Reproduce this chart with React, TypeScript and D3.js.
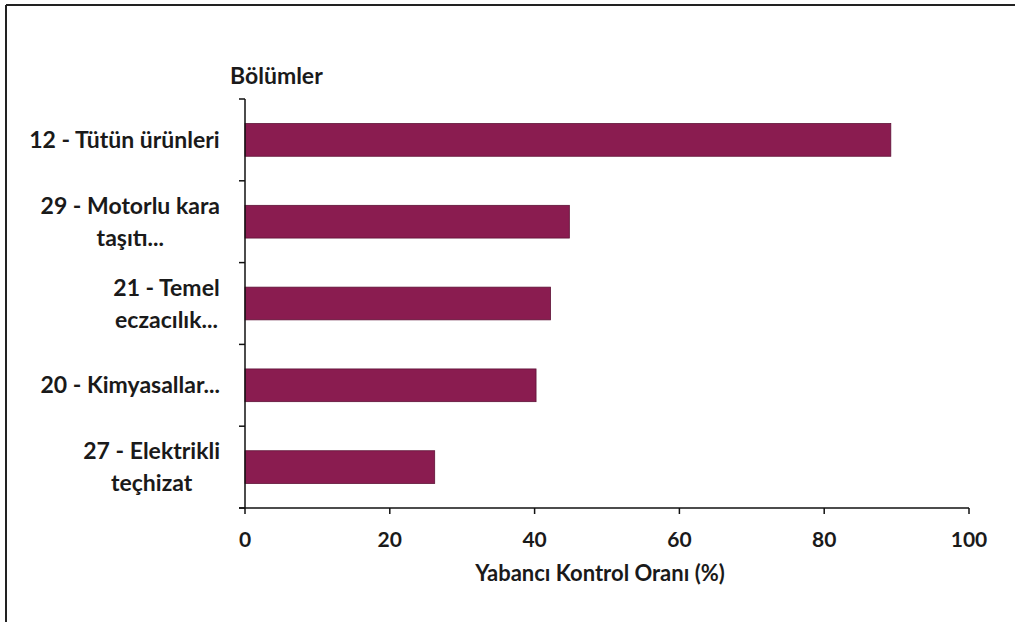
import React from "react";
import * as d3 from "d3";

const categories: string[][] = [
  ["12 - Tütün ürünleri"],
  ["29 - Motorlu kara", "taşıtı..."],
  ["21 - Temel", "eczacılık..."],
  ["20 - Kimyasallar..."],
  ["27 - Elektrikli", "teçhizat"],
];
const values: number[] = [89.2, 44.8, 42.2, 40.2, 26.2];
const xTicks: number[] = [0, 20, 40, 60, 80, 100];
const yTitle = "Bölümler";
const xTitle = "Yabancı Kontrol Oranı (%)";

const W = 1015;
const H = 622;
const left = 245;
const right = 969;
const top = 99;
const bottom = 508;
const FONT = "Lato, 'DejaVu Sans', sans-serif";
const BAR = "#8a1c50";
const TXT = "#1a1a1a";
const LABEL_SIZE = 23;
const LABEL_RIGHT = 220;

let ctx: CanvasRenderingContext2D | null = null;
function measure(s: string): number {
  if (!ctx) {
    const c = document.createElement("canvas");
    ctx = c.getContext("2d");
  }
  if (!ctx) return s.length * LABEL_SIZE * 0.5;
  ctx.font = `700 ${LABEL_SIZE}px Lato, 'DejaVu Sans', sans-serif`;
  return ctx.measureText(s).width;
}

export default function App() {
  const x = d3.scaleLinear().domain([0, 100]).range([left, right]);
  const idx = categories.map((_, i) => String(i));
  const y = d3.scaleBand<string>().domain(idx).range([top, bottom]).paddingInner(0.6).paddingOuter(0.3);
  const yb = d3.scaleBand<string>().domain(idx).range([top, bottom]);
  const bounds = idx.map((k) => yb(k)!).concat([bottom]);
  return (
    <svg width={W} height={H} style={{ position: "absolute", left: 0, top: 0, background: "#fff" }}>
      <line x1={6} y1={5} x2={W} y2={5} stroke="#222" strokeWidth={2} />
      <line x1={6} y1={5} x2={6} y2={H} stroke="#222" strokeWidth={2} />
      {values.map((v, i) => (
        <rect key={i} x={x(0)} y={y(String(i))} width={x(v) - x(0)} height={y.bandwidth()} fill={BAR} stroke="#5e1236" strokeWidth={0.8} />
      ))}
      <line x1={left} y1={top} x2={left} y2={bottom} stroke="#111" strokeWidth={1.5} />
      {bounds.map((b, i) => (
        <line key={i} x1={left - 6} x2={left} y1={b} y2={b} stroke="#111" strokeWidth={1.5} />
      ))}
      <line x1={left - 6} x2={right} y1={bottom} y2={bottom} stroke="#111" strokeWidth={1.5} />
      {xTicks.map((t) => (
        <g key={t}>
          <line x1={x(t)} x2={x(t)} y1={bottom} y2={bottom + 6} stroke="#111" strokeWidth={1.5} />
          <text x={x(t)} y={547} textAnchor="middle" fontFamily={FONT} fontWeight={700} fontSize={21} fill={TXT}>{t}</text>
        </g>
      ))}
      {categories.map((lines, i) => {
        const cy = yb(String(i))! + yb.bandwidth() / 2;
        const lh = 32;
        const y0 = cy - ((lines.length - 1) * lh) / 2 + 8;
        const maxW = Math.max(...lines.map(measure));
        const cx = LABEL_RIGHT - maxW / 2;
        return (
          <text key={i} textAnchor="middle" fontFamily={FONT} fontWeight={700} fontSize={LABEL_SIZE} fill={TXT}>
            {lines.map((l, j) => (
              <tspan key={j} x={cx} y={y0 + j * lh}>{l}</tspan>
            ))}
          </text>
        );
      })}
      <text x={230} y={84} fontFamily={FONT} fontWeight={700} fontSize={23} fill={TXT}>{yTitle}</text>
      <text x={600} y={581} textAnchor="middle" fontFamily={FONT} fontWeight={700} fontSize={22} fill={TXT}>{xTitle}</text>
    </svg>
  );
}
